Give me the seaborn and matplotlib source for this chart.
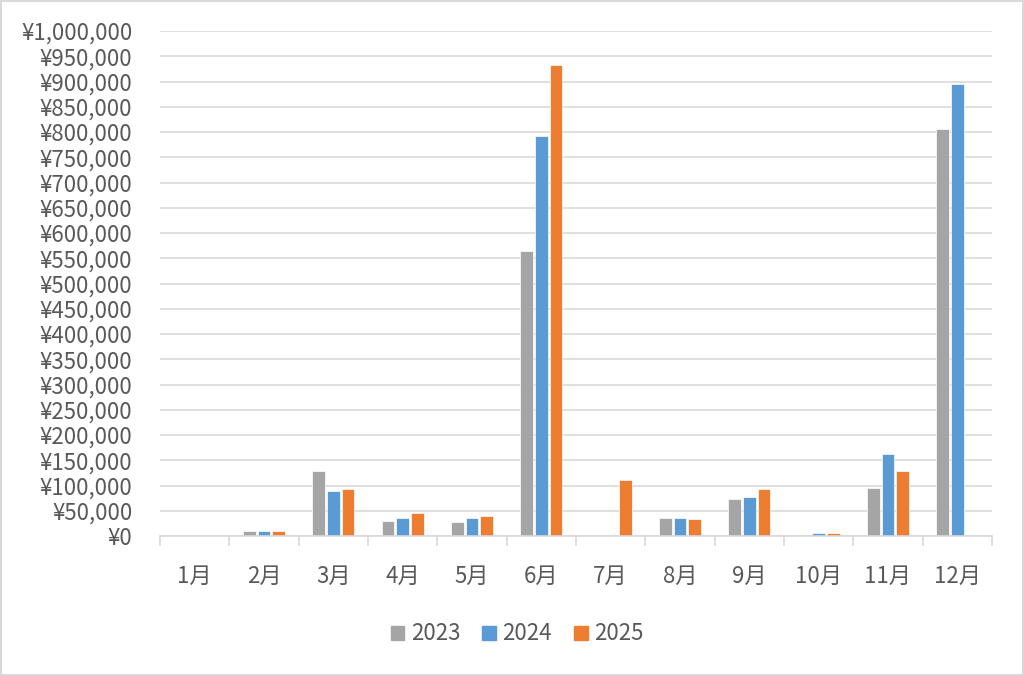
import matplotlib
matplotlib.use("Agg")
import matplotlib.pyplot as plt
from matplotlib.patches import Rectangle
from matplotlib.ticker import FuncFormatter, FixedLocator, MultipleLocator
import seaborn as sns
import pandas as pd

months = ["1月", "2月", "3月", "4月", "5月", "6月", "7月", "8月", "9月", "10月", "11月", "12月"]
years = ["2023", "2024", "2025"]
sales_2023 = [0, 9000, 129000, 29000, 27000, 565000, 0, 36000, 73000, 0, 95000, 805000]
sales_2024 = [0, 9000, 89000, 36000, 35000, 792000, 0, 35000, 77000, 5000, 162000, 895000]
sales_2025 = [0, 9000, 93000, 45000, 39000, 933000, 110000, 34000, 94000, 5000, 129000, 0]
colors = ["#A5A5A5", "#5B9BD5", "#ED7D31"]

df = pd.DataFrame({
    "month": months * 3,
    "year": [years[0]] * 12 + [years[1]] * 12 + [years[2]] * 12,
    "value": sales_2023 + sales_2024 + sales_2025,
})

sns.set_theme(style="white")
plt.rcParams["font.family"] = ["Noto Sans CJK JP", "DejaVu Sans"]
text_color = "#595959"

fig = plt.figure(figsize=(10.24, 6.76), dpi=100)
ax = fig.add_axes([160 / 1024, 1 - 536 / 676, 832 / 1024, 505 / 676])

sns.barplot(data=df, x="month", y="value", hue="year", palette=colors,
            width=0.63, gap=0.13, edgecolor="white", linewidth=0.5,
            saturation=1, ax=ax)

ax.set_ylim(0, 1000000)
ax.set_xlim(-0.5, 11.5)
ax.yaxis.set_major_locator(MultipleLocator(50000))
ax.yaxis.set_major_formatter(FuncFormatter(lambda v, p: "¥{:,}".format(int(v))))
ax.yaxis.grid(True, color="#D9D9D9", linewidth=1.2)
ax.set_axisbelow(True)
ax.set_xlabel("")
ax.set_ylabel("")

for s in ["left", "right", "top"]:
    ax.spines[s].set_visible(False)
ax.spines["bottom"].set_color("#D9D9D9")
ax.spines["bottom"].set_linewidth(1.2)

ax.tick_params(axis="y", length=0, labelsize=16, labelcolor=text_color, pad=20)
ax.tick_params(axis="x", which="major", length=0, labelsize=16, labelcolor=text_color, pad=21)
ax.xaxis.set_minor_locator(FixedLocator([i - 0.5 for i in range(13)]))
ax.tick_params(axis="x", which="minor", length=7, width=1.2, color="#D9D9D9", bottom=True)

ax.get_legend().remove()
handles = [Rectangle((0, 0), 1, 1, color=c) for c in colors]
fig.legend(handles, years, loc="center", bbox_to_anchor=(0.505, 1 - 634 / 676),
           ncol=3, frameon=False, fontsize=16, labelcolor=text_color,
           handlelength=0.6, handleheight=0.6, handletextpad=0.3, columnspacing=1.0)

fig.patches.append(Rectangle((0.001, 0.001), 0.998, 0.998, transform=fig.transFigure,
                             fill=False, edgecolor="#D9D9D9", linewidth=1.5))

fig.savefig("out.png", dpi=100)
